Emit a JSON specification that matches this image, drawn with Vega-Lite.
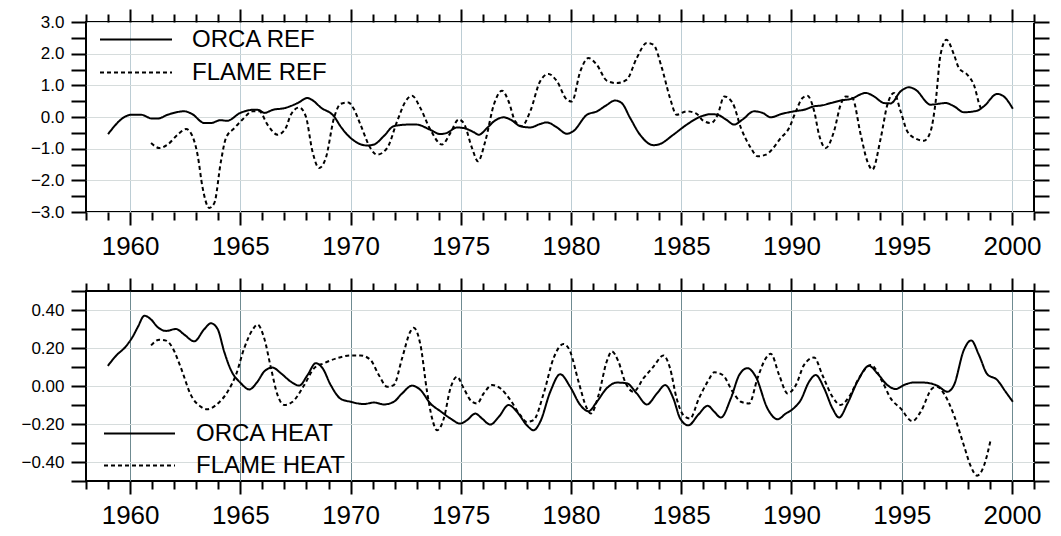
{
  "$schema": "https://vega.github.io/schema/vega-lite/v6.json",
  "padding": {"left": 5, "top": 7, "right": 5, "bottom": 0},
  "background": "white",
  "spacing": 13,
  "datasets": {
    "ref": [
      {"year": 1959.0, "v": -0.54, "s": "ORCA REF"},
      {"year": 1959.8, "v": 0.02, "s": "ORCA REF"},
      {"year": 1960.05, "v": 0.07, "s": "ORCA REF"},
      {"year": 1960.5, "v": 0.07, "s": "ORCA REF"},
      {"year": 1961.0, "v": -0.05, "s": "ORCA REF"},
      {"year": 1961.25, "v": -0.05, "s": "ORCA REF"},
      {"year": 1961.7, "v": 0.07, "s": "ORCA REF"},
      {"year": 1962.46, "v": 0.18, "s": "ORCA REF"},
      {"year": 1962.8, "v": 0.1, "s": "ORCA REF"},
      {"year": 1963.37, "v": -0.19, "s": "ORCA REF"},
      {"year": 1963.67, "v": -0.19, "s": "ORCA REF"},
      {"year": 1964.1, "v": -0.1, "s": "ORCA REF"},
      {"year": 1964.4, "v": -0.12, "s": "ORCA REF"},
      {"year": 1965.0, "v": 0.13, "s": "ORCA REF"},
      {"year": 1965.63, "v": 0.23, "s": "ORCA REF"},
      {"year": 1965.85, "v": 0.22, "s": "ORCA REF"},
      {"year": 1966.08, "v": 0.13, "s": "ORCA REF"},
      {"year": 1966.5, "v": 0.23, "s": "ORCA REF"},
      {"year": 1967.0, "v": 0.28, "s": "ORCA REF"},
      {"year": 1967.6, "v": 0.44, "s": "ORCA REF"},
      {"year": 1968.05, "v": 0.6, "s": "ORCA REF"},
      {"year": 1968.27, "v": 0.53, "s": "ORCA REF"},
      {"year": 1968.65, "v": 0.3, "s": "ORCA REF"},
      {"year": 1969.25, "v": 0.02, "s": "ORCA REF"},
      {"year": 1969.55, "v": -0.3, "s": "ORCA REF"},
      {"year": 1970.0, "v": -0.66, "s": "ORCA REF"},
      {"year": 1970.75, "v": -0.9, "s": "ORCA REF"},
      {"year": 1971.06, "v": -0.87, "s": "ORCA REF"},
      {"year": 1971.5, "v": -0.61, "s": "ORCA REF"},
      {"year": 1971.96, "v": -0.29, "s": "ORCA REF"},
      {"year": 1972.57, "v": -0.24, "s": "ORCA REF"},
      {"year": 1973.0, "v": -0.24, "s": "ORCA REF"},
      {"year": 1973.6, "v": -0.4, "s": "ORCA REF"},
      {"year": 1974.08, "v": -0.54, "s": "ORCA REF"},
      {"year": 1974.38, "v": -0.5, "s": "ORCA REF"},
      {"year": 1974.83, "v": -0.33, "s": "ORCA REF"},
      {"year": 1975.13, "v": -0.35, "s": "ORCA REF"},
      {"year": 1975.59, "v": -0.48, "s": "ORCA REF"},
      {"year": 1975.81, "v": -0.56, "s": "ORCA REF"},
      {"year": 1976.19, "v": -0.35, "s": "ORCA REF"},
      {"year": 1976.5, "v": -0.14, "s": "ORCA REF"},
      {"year": 1976.94, "v": -0.01, "s": "ORCA REF"},
      {"year": 1977.25, "v": -0.08, "s": "ORCA REF"},
      {"year": 1977.7, "v": -0.29, "s": "ORCA REF"},
      {"year": 1978.15, "v": -0.33, "s": "ORCA REF"},
      {"year": 1978.6, "v": -0.22, "s": "ORCA REF"},
      {"year": 1978.9, "v": -0.17, "s": "ORCA REF"},
      {"year": 1979.36, "v": -0.33, "s": "ORCA REF"},
      {"year": 1979.81, "v": -0.53, "s": "ORCA REF"},
      {"year": 1980.1, "v": -0.45, "s": "ORCA REF"},
      {"year": 1980.72, "v": 0.07, "s": "ORCA REF"},
      {"year": 1981.18, "v": 0.18, "s": "ORCA REF"},
      {"year": 1981.6, "v": 0.37, "s": "ORCA REF"},
      {"year": 1982.0, "v": 0.52, "s": "ORCA REF"},
      {"year": 1982.3, "v": 0.44, "s": "ORCA REF"},
      {"year": 1982.68, "v": -0.03, "s": "ORCA REF"},
      {"year": 1983.13, "v": -0.56, "s": "ORCA REF"},
      {"year": 1983.74, "v": -0.89, "s": "ORCA REF"},
      {"year": 1984.04, "v": -0.85, "s": "ORCA REF"},
      {"year": 1984.64, "v": -0.56, "s": "ORCA REF"},
      {"year": 1985.25, "v": -0.24, "s": "ORCA REF"},
      {"year": 1985.87, "v": 0.01, "s": "ORCA REF"},
      {"year": 1986.35, "v": 0.09, "s": "ORCA REF"},
      {"year": 1986.65, "v": 0.07, "s": "ORCA REF"},
      {"year": 1987.03, "v": -0.08, "s": "ORCA REF"},
      {"year": 1987.4, "v": -0.24, "s": "ORCA REF"},
      {"year": 1987.78, "v": -0.08, "s": "ORCA REF"},
      {"year": 1988.3, "v": 0.18, "s": "ORCA REF"},
      {"year": 1988.69, "v": 0.13, "s": "ORCA REF"},
      {"year": 1989.06, "v": -0.01, "s": "ORCA REF"},
      {"year": 1989.52, "v": 0.09, "s": "ORCA REF"},
      {"year": 1990.12, "v": 0.18, "s": "ORCA REF"},
      {"year": 1990.57, "v": 0.23, "s": "ORCA REF"},
      {"year": 1991.03, "v": 0.34, "s": "ORCA REF"},
      {"year": 1991.33, "v": 0.36, "s": "ORCA REF"},
      {"year": 1991.78, "v": 0.44, "s": "ORCA REF"},
      {"year": 1992.23, "v": 0.52, "s": "ORCA REF"},
      {"year": 1992.69, "v": 0.57, "s": "ORCA REF"},
      {"year": 1993.37, "v": 0.76, "s": "ORCA REF"},
      {"year": 1993.74, "v": 0.65, "s": "ORCA REF"},
      {"year": 1994.2, "v": 0.44, "s": "ORCA REF"},
      {"year": 1994.5, "v": 0.43, "s": "ORCA REF"},
      {"year": 1994.95, "v": 0.81, "s": "ORCA REF"},
      {"year": 1995.33, "v": 0.94, "s": "ORCA REF"},
      {"year": 1995.63, "v": 0.86, "s": "ORCA REF"},
      {"year": 1996.31, "v": 0.39, "s": "ORCA REF"},
      {"year": 1996.99, "v": 0.44, "s": "ORCA REF"},
      {"year": 1997.37, "v": 0.34, "s": "ORCA REF"},
      {"year": 1997.82, "v": 0.15, "s": "ORCA REF"},
      {"year": 1998.42, "v": 0.2, "s": "ORCA REF"},
      {"year": 1998.73, "v": 0.34, "s": "ORCA REF"},
      {"year": 1999.33, "v": 0.73, "s": "ORCA REF"},
      {"year": 1999.63, "v": 0.65, "s": "ORCA REF"},
      {"year": 2000.04, "v": 0.26, "s": "ORCA REF"},
      {"year": 1960.95, "v": -0.82, "s": "FLAME REF"},
      {"year": 1961.33, "v": -0.98, "s": "FLAME REF"},
      {"year": 1961.7, "v": -0.87, "s": "FLAME REF"},
      {"year": 1962.16, "v": -0.56, "s": "FLAME REF"},
      {"year": 1962.54, "v": -0.38, "s": "FLAME REF"},
      {"year": 1962.76, "v": -0.51, "s": "FLAME REF"},
      {"year": 1963.06, "v": -1.19, "s": "FLAME REF"},
      {"year": 1963.29, "v": -2.24, "s": "FLAME REF"},
      {"year": 1963.59, "v": -2.87, "s": "FLAME REF"},
      {"year": 1963.82, "v": -2.72, "s": "FLAME REF"},
      {"year": 1964.12, "v": -1.4, "s": "FLAME REF"},
      {"year": 1964.35, "v": -0.66, "s": "FLAME REF"},
      {"year": 1964.73, "v": -0.35, "s": "FLAME REF"},
      {"year": 1965.1, "v": -0.08, "s": "FLAME REF"},
      {"year": 1965.56, "v": 0.18, "s": "FLAME REF"},
      {"year": 1965.86, "v": 0.18, "s": "FLAME REF"},
      {"year": 1966.23, "v": -0.24, "s": "FLAME REF"},
      {"year": 1966.69, "v": -0.56, "s": "FLAME REF"},
      {"year": 1967.06, "v": -0.35, "s": "FLAME REF"},
      {"year": 1967.29, "v": 0.07, "s": "FLAME REF"},
      {"year": 1967.67, "v": 0.3, "s": "FLAME REF"},
      {"year": 1967.97, "v": 0.02, "s": "FLAME REF"},
      {"year": 1968.27, "v": -1.08, "s": "FLAME REF"},
      {"year": 1968.57, "v": -1.61, "s": "FLAME REF"},
      {"year": 1968.88, "v": -1.29, "s": "FLAME REF"},
      {"year": 1969.25, "v": -0.03, "s": "FLAME REF"},
      {"year": 1969.56, "v": 0.42, "s": "FLAME REF"},
      {"year": 1969.9, "v": 0.46, "s": "FLAME REF"},
      {"year": 1970.15, "v": 0.25, "s": "FLAME REF"},
      {"year": 1970.45, "v": -0.24, "s": "FLAME REF"},
      {"year": 1970.9, "v": -0.98, "s": "FLAME REF"},
      {"year": 1971.2, "v": -1.19, "s": "FLAME REF"},
      {"year": 1971.66, "v": -0.98, "s": "FLAME REF"},
      {"year": 1972.11, "v": -0.14, "s": "FLAME REF"},
      {"year": 1972.49, "v": 0.49, "s": "FLAME REF"},
      {"year": 1972.79, "v": 0.67, "s": "FLAME REF"},
      {"year": 1973.17, "v": 0.28, "s": "FLAME REF"},
      {"year": 1973.62, "v": -0.4, "s": "FLAME REF"},
      {"year": 1974.15, "v": -0.87, "s": "FLAME REF"},
      {"year": 1974.53, "v": -0.5, "s": "FLAME REF"},
      {"year": 1974.9, "v": -0.08, "s": "FLAME REF"},
      {"year": 1975.13, "v": -0.19, "s": "FLAME REF"},
      {"year": 1975.51, "v": -0.98, "s": "FLAME REF"},
      {"year": 1975.78, "v": -1.4, "s": "FLAME REF"},
      {"year": 1976.11, "v": -0.77, "s": "FLAME REF"},
      {"year": 1976.5, "v": 0.39, "s": "FLAME REF"},
      {"year": 1976.87, "v": 0.83, "s": "FLAME REF"},
      {"year": 1977.17, "v": 0.49, "s": "FLAME REF"},
      {"year": 1977.47, "v": -0.14, "s": "FLAME REF"},
      {"year": 1977.77, "v": -0.29, "s": "FLAME REF"},
      {"year": 1978.15, "v": 0.18, "s": "FLAME REF"},
      {"year": 1978.6, "v": 1.13, "s": "FLAME REF"},
      {"year": 1978.98, "v": 1.36, "s": "FLAME REF"},
      {"year": 1979.36, "v": 1.13, "s": "FLAME REF"},
      {"year": 1979.81, "v": 0.55, "s": "FLAME REF"},
      {"year": 1980.04, "v": 0.49, "s": "FLAME REF"},
      {"year": 1980.42, "v": 1.44, "s": "FLAME REF"},
      {"year": 1980.79, "v": 1.86, "s": "FLAME REF"},
      {"year": 1981.17, "v": 1.65, "s": "FLAME REF"},
      {"year": 1981.62, "v": 1.15, "s": "FLAME REF"},
      {"year": 1982.08, "v": 1.07, "s": "FLAME REF"},
      {"year": 1982.53, "v": 1.18, "s": "FLAME REF"},
      {"year": 1982.98, "v": 1.86, "s": "FLAME REF"},
      {"year": 1983.44, "v": 2.34, "s": "FLAME REF"},
      {"year": 1983.74, "v": 2.28, "s": "FLAME REF"},
      {"year": 1984.12, "v": 1.55, "s": "FLAME REF"},
      {"year": 1984.49, "v": 0.6, "s": "FLAME REF"},
      {"year": 1984.79, "v": 0.07, "s": "FLAME REF"},
      {"year": 1985.25, "v": 0.18, "s": "FLAME REF"},
      {"year": 1985.7, "v": 0.1, "s": "FLAME REF"},
      {"year": 1986.0, "v": -0.12, "s": "FLAME REF"},
      {"year": 1986.35, "v": -0.19, "s": "FLAME REF"},
      {"year": 1986.65, "v": 0.07, "s": "FLAME REF"},
      {"year": 1986.95, "v": 0.65, "s": "FLAME REF"},
      {"year": 1987.33, "v": 0.44, "s": "FLAME REF"},
      {"year": 1987.71, "v": -0.35, "s": "FLAME REF"},
      {"year": 1988.16, "v": -0.98, "s": "FLAME REF"},
      {"year": 1988.46, "v": -1.24, "s": "FLAME REF"},
      {"year": 1988.84, "v": -1.19, "s": "FLAME REF"},
      {"year": 1989.52, "v": -0.66, "s": "FLAME REF"},
      {"year": 1989.89, "v": -0.35, "s": "FLAME REF"},
      {"year": 1990.2, "v": 0.18, "s": "FLAME REF"},
      {"year": 1990.5, "v": 0.6, "s": "FLAME REF"},
      {"year": 1990.72, "v": 0.67, "s": "FLAME REF"},
      {"year": 1991.03, "v": 0.18, "s": "FLAME REF"},
      {"year": 1991.25, "v": -0.56, "s": "FLAME REF"},
      {"year": 1991.55, "v": -0.98, "s": "FLAME REF"},
      {"year": 1991.93, "v": -0.45, "s": "FLAME REF"},
      {"year": 1992.23, "v": 0.39, "s": "FLAME REF"},
      {"year": 1992.46, "v": 0.65, "s": "FLAME REF"},
      {"year": 1992.76, "v": 0.6, "s": "FLAME REF"},
      {"year": 1993.14, "v": -0.56, "s": "FLAME REF"},
      {"year": 1993.44, "v": -1.4, "s": "FLAME REF"},
      {"year": 1993.67, "v": -1.66, "s": "FLAME REF"},
      {"year": 1994.05, "v": -0.66, "s": "FLAME REF"},
      {"year": 1994.35, "v": 0.39, "s": "FLAME REF"},
      {"year": 1994.65, "v": 0.76, "s": "FLAME REF"},
      {"year": 1994.95, "v": 0.18, "s": "FLAME REF"},
      {"year": 1995.25, "v": -0.45, "s": "FLAME REF"},
      {"year": 1995.63, "v": -0.68, "s": "FLAME REF"},
      {"year": 1996.01, "v": -0.75, "s": "FLAME REF"},
      {"year": 1996.31, "v": -0.45, "s": "FLAME REF"},
      {"year": 1996.54, "v": 0.49, "s": "FLAME REF"},
      {"year": 1996.76, "v": 1.97, "s": "FLAME REF"},
      {"year": 1997.03, "v": 2.44, "s": "FLAME REF"},
      {"year": 1997.37, "v": 1.97, "s": "FLAME REF"},
      {"year": 1997.59, "v": 1.55, "s": "FLAME REF"},
      {"year": 1997.97, "v": 1.34, "s": "FLAME REF"},
      {"year": 1998.27, "v": 1.02, "s": "FLAME REF"},
      {"year": 1998.57, "v": 0.31, "s": "FLAME REF"},
      {"year": 1998.65, "v": 0.23, "s": "FLAME REF"}
    ],
    "heat": [
      {"year": 1958.99, "v": 0.106, "s": "ORCA HEAT"},
      {"year": 1959.37, "v": 0.16, "s": "ORCA HEAT"},
      {"year": 1959.82, "v": 0.21, "s": "ORCA HEAT"},
      {"year": 1960.12, "v": 0.26, "s": "ORCA HEAT"},
      {"year": 1960.35, "v": 0.31, "s": "ORCA HEAT"},
      {"year": 1960.65, "v": 0.37, "s": "ORCA HEAT"},
      {"year": 1960.95, "v": 0.35, "s": "ORCA HEAT"},
      {"year": 1961.25, "v": 0.31, "s": "ORCA HEAT"},
      {"year": 1961.63, "v": 0.29, "s": "ORCA HEAT"},
      {"year": 1962.08, "v": 0.30, "s": "ORCA HEAT"},
      {"year": 1962.46, "v": 0.27, "s": "ORCA HEAT"},
      {"year": 1962.91, "v": 0.235, "s": "ORCA HEAT"},
      {"year": 1963.37, "v": 0.30, "s": "ORCA HEAT"},
      {"year": 1963.67, "v": 0.33, "s": "ORCA HEAT"},
      {"year": 1963.97, "v": 0.30, "s": "ORCA HEAT"},
      {"year": 1964.27, "v": 0.18, "s": "ORCA HEAT"},
      {"year": 1964.57, "v": 0.085, "s": "ORCA HEAT"},
      {"year": 1965.03, "v": 0.014, "s": "ORCA HEAT"},
      {"year": 1965.4, "v": -0.018, "s": "ORCA HEAT"},
      {"year": 1965.78, "v": 0.023, "s": "ORCA HEAT"},
      {"year": 1966.08, "v": 0.076, "s": "ORCA HEAT"},
      {"year": 1966.46, "v": 0.097, "s": "ORCA HEAT"},
      {"year": 1966.84, "v": 0.067, "s": "ORCA HEAT"},
      {"year": 1967.29, "v": 0.023, "s": "ORCA HEAT"},
      {"year": 1967.67, "v": 0.002, "s": "ORCA HEAT"},
      {"year": 1968.05, "v": 0.058, "s": "ORCA HEAT"},
      {"year": 1968.42, "v": 0.12, "s": "ORCA HEAT"},
      {"year": 1968.73, "v": 0.094, "s": "ORCA HEAT"},
      {"year": 1969.1, "v": 0.005, "s": "ORCA HEAT"},
      {"year": 1969.56, "v": -0.068, "s": "ORCA HEAT"},
      {"year": 1970.0, "v": -0.083, "s": "ORCA HEAT"},
      {"year": 1970.6, "v": -0.095, "s": "ORCA HEAT"},
      {"year": 1971.06, "v": -0.087, "s": "ORCA HEAT"},
      {"year": 1971.51, "v": -0.097, "s": "ORCA HEAT"},
      {"year": 1971.96, "v": -0.083, "s": "ORCA HEAT"},
      {"year": 1972.34, "v": -0.039, "s": "ORCA HEAT"},
      {"year": 1972.79, "v": 0.002, "s": "ORCA HEAT"},
      {"year": 1973.17, "v": -0.021, "s": "ORCA HEAT"},
      {"year": 1973.62, "v": -0.092, "s": "ORCA HEAT"},
      {"year": 1974.08, "v": -0.133, "s": "ORCA HEAT"},
      {"year": 1974.53, "v": -0.171, "s": "ORCA HEAT"},
      {"year": 1974.98, "v": -0.198, "s": "ORCA HEAT"},
      {"year": 1975.28, "v": -0.18, "s": "ORCA HEAT"},
      {"year": 1975.66, "v": -0.145, "s": "ORCA HEAT"},
      {"year": 1975.96, "v": -0.171, "s": "ORCA HEAT"},
      {"year": 1976.34, "v": -0.203, "s": "ORCA HEAT"},
      {"year": 1976.72, "v": -0.163, "s": "ORCA HEAT"},
      {"year": 1977.17, "v": -0.1, "s": "ORCA HEAT"},
      {"year": 1977.55, "v": -0.136, "s": "ORCA HEAT"},
      {"year": 1978.0, "v": -0.207, "s": "ORCA HEAT"},
      {"year": 1978.3, "v": -0.233, "s": "ORCA HEAT"},
      {"year": 1978.6, "v": -0.189, "s": "ORCA HEAT"},
      {"year": 1979.06, "v": -0.03, "s": "ORCA HEAT"},
      {"year": 1979.51, "v": 0.062, "s": "ORCA HEAT"},
      {"year": 1979.96, "v": -0.004, "s": "ORCA HEAT"},
      {"year": 1980.42, "v": -0.1, "s": "ORCA HEAT"},
      {"year": 1980.79, "v": -0.133, "s": "ORCA HEAT"},
      {"year": 1981.17, "v": -0.083, "s": "ORCA HEAT"},
      {"year": 1981.62, "v": -0.012, "s": "ORCA HEAT"},
      {"year": 1982.08, "v": 0.018, "s": "ORCA HEAT"},
      {"year": 1982.53, "v": 0.014, "s": "ORCA HEAT"},
      {"year": 1982.98, "v": -0.039, "s": "ORCA HEAT"},
      {"year": 1983.44, "v": -0.097, "s": "ORCA HEAT"},
      {"year": 1983.9, "v": -0.039, "s": "ORCA HEAT"},
      {"year": 1984.27, "v": 0.005, "s": "ORCA HEAT"},
      {"year": 1984.64, "v": -0.065, "s": "ORCA HEAT"},
      {"year": 1984.95, "v": -0.171, "s": "ORCA HEAT"},
      {"year": 1985.32, "v": -0.207, "s": "ORCA HEAT"},
      {"year": 1985.78, "v": -0.15, "s": "ORCA HEAT"},
      {"year": 1986.2, "v": -0.104, "s": "ORCA HEAT"},
      {"year": 1986.5, "v": -0.136, "s": "ORCA HEAT"},
      {"year": 1986.8, "v": -0.166, "s": "ORCA HEAT"},
      {"year": 1987.25, "v": -0.065, "s": "ORCA HEAT"},
      {"year": 1987.63, "v": 0.058, "s": "ORCA HEAT"},
      {"year": 1988.0, "v": 0.094, "s": "ORCA HEAT"},
      {"year": 1988.38, "v": 0.049, "s": "ORCA HEAT"},
      {"year": 1988.91, "v": -0.118, "s": "ORCA HEAT"},
      {"year": 1989.37, "v": -0.175, "s": "ORCA HEAT"},
      {"year": 1989.74, "v": -0.145, "s": "ORCA HEAT"},
      {"year": 1990.05, "v": -0.122, "s": "ORCA HEAT"},
      {"year": 1990.42, "v": -0.074, "s": "ORCA HEAT"},
      {"year": 1990.8, "v": 0.023, "s": "ORCA HEAT"},
      {"year": 1991.1, "v": 0.058, "s": "ORCA HEAT"},
      {"year": 1991.48, "v": -0.012, "s": "ORCA HEAT"},
      {"year": 1991.86, "v": -0.118, "s": "ORCA HEAT"},
      {"year": 1992.16, "v": -0.166, "s": "ORCA HEAT"},
      {"year": 1992.54, "v": -0.092, "s": "ORCA HEAT"},
      {"year": 1992.99, "v": 0.023, "s": "ORCA HEAT"},
      {"year": 1993.52, "v": 0.106, "s": "ORCA HEAT"},
      {"year": 1993.89, "v": 0.067, "s": "ORCA HEAT"},
      {"year": 1994.35, "v": 0.005, "s": "ORCA HEAT"},
      {"year": 1994.73, "v": -0.016, "s": "ORCA HEAT"},
      {"year": 1995.1, "v": 0.005, "s": "ORCA HEAT"},
      {"year": 1995.56, "v": 0.019, "s": "ORCA HEAT"},
      {"year": 1996.01, "v": 0.018, "s": "ORCA HEAT"},
      {"year": 1996.61, "v": 0.002, "s": "ORCA HEAT"},
      {"year": 1997.07, "v": -0.03, "s": "ORCA HEAT"},
      {"year": 1997.37, "v": 0.005, "s": "ORCA HEAT"},
      {"year": 1997.82, "v": 0.19, "s": "ORCA HEAT"},
      {"year": 1998.15, "v": 0.24, "s": "ORCA HEAT"},
      {"year": 1998.5, "v": 0.164, "s": "ORCA HEAT"},
      {"year": 1998.88, "v": 0.062, "s": "ORCA HEAT"},
      {"year": 1999.33, "v": 0.032, "s": "ORCA HEAT"},
      {"year": 1999.71, "v": -0.03, "s": "ORCA HEAT"},
      {"year": 2000.04, "v": -0.083, "s": "ORCA HEAT"},
      {"year": 1960.95, "v": 0.214, "s": "FLAME HEAT"},
      {"year": 1961.33, "v": 0.244, "s": "FLAME HEAT"},
      {"year": 1961.63, "v": 0.239, "s": "FLAME HEAT"},
      {"year": 1961.93, "v": 0.2, "s": "FLAME HEAT"},
      {"year": 1962.31, "v": 0.094, "s": "FLAME HEAT"},
      {"year": 1962.76, "v": -0.048, "s": "FLAME HEAT"},
      {"year": 1963.22, "v": -0.11, "s": "FLAME HEAT"},
      {"year": 1963.49, "v": -0.122, "s": "FLAME HEAT"},
      {"year": 1963.9, "v": -0.1, "s": "FLAME HEAT"},
      {"year": 1964.42, "v": -0.03, "s": "FLAME HEAT"},
      {"year": 1964.8, "v": 0.058, "s": "FLAME HEAT"},
      {"year": 1965.18, "v": 0.2, "s": "FLAME HEAT"},
      {"year": 1965.56, "v": 0.297, "s": "FLAME HEAT"},
      {"year": 1965.78, "v": 0.323, "s": "FLAME HEAT"},
      {"year": 1966.08, "v": 0.253, "s": "FLAME HEAT"},
      {"year": 1966.39, "v": 0.094, "s": "FLAME HEAT"},
      {"year": 1966.69, "v": -0.048, "s": "FLAME HEAT"},
      {"year": 1966.99, "v": -0.1, "s": "FLAME HEAT"},
      {"year": 1967.37, "v": -0.083, "s": "FLAME HEAT"},
      {"year": 1967.9, "v": 0.005, "s": "FLAME HEAT"},
      {"year": 1968.35, "v": 0.094, "s": "FLAME HEAT"},
      {"year": 1968.8, "v": 0.12, "s": "FLAME HEAT"},
      {"year": 1969.4, "v": 0.147, "s": "FLAME HEAT"},
      {"year": 1970.01, "v": 0.161, "s": "FLAME HEAT"},
      {"year": 1970.45, "v": 0.161, "s": "FLAME HEAT"},
      {"year": 1970.9, "v": 0.138, "s": "FLAME HEAT"},
      {"year": 1971.28, "v": 0.058, "s": "FLAME HEAT"},
      {"year": 1971.66, "v": -0.004, "s": "FLAME HEAT"},
      {"year": 1971.96, "v": 0.005, "s": "FLAME HEAT"},
      {"year": 1972.34, "v": 0.147, "s": "FLAME HEAT"},
      {"year": 1972.72, "v": 0.288, "s": "FLAME HEAT"},
      {"year": 1972.87, "v": 0.306, "s": "FLAME HEAT"},
      {"year": 1973.17, "v": 0.217, "s": "FLAME HEAT"},
      {"year": 1973.47, "v": -0.03, "s": "FLAME HEAT"},
      {"year": 1973.7, "v": -0.171, "s": "FLAME HEAT"},
      {"year": 1973.92, "v": -0.233, "s": "FLAME HEAT"},
      {"year": 1974.23, "v": -0.171, "s": "FLAME HEAT"},
      {"year": 1974.53, "v": -0.012, "s": "FLAME HEAT"},
      {"year": 1974.83, "v": 0.049, "s": "FLAME HEAT"},
      {"year": 1975.13, "v": -0.012, "s": "FLAME HEAT"},
      {"year": 1975.51, "v": -0.083, "s": "FLAME HEAT"},
      {"year": 1975.74, "v": -0.092, "s": "FLAME HEAT"},
      {"year": 1976.04, "v": -0.039, "s": "FLAME HEAT"},
      {"year": 1976.42, "v": 0.005, "s": "FLAME HEAT"},
      {"year": 1976.79, "v": -0.012, "s": "FLAME HEAT"},
      {"year": 1977.25, "v": -0.074, "s": "FLAME HEAT"},
      {"year": 1977.7, "v": -0.154, "s": "FLAME HEAT"},
      {"year": 1978.0, "v": -0.189, "s": "FLAME HEAT"},
      {"year": 1978.3, "v": -0.18, "s": "FLAME HEAT"},
      {"year": 1978.76, "v": -0.039, "s": "FLAME HEAT"},
      {"year": 1979.21, "v": 0.147, "s": "FLAME HEAT"},
      {"year": 1979.66, "v": 0.221, "s": "FLAME HEAT"},
      {"year": 1979.96, "v": 0.182, "s": "FLAME HEAT"},
      {"year": 1980.34, "v": 0.023, "s": "FLAME HEAT"},
      {"year": 1980.72, "v": -0.118, "s": "FLAME HEAT"},
      {"year": 1980.9, "v": -0.145, "s": "FLAME HEAT"},
      {"year": 1981.25, "v": -0.048, "s": "FLAME HEAT"},
      {"year": 1981.62, "v": 0.129, "s": "FLAME HEAT"},
      {"year": 1981.85, "v": 0.182, "s": "FLAME HEAT"},
      {"year": 1982.15, "v": 0.129, "s": "FLAME HEAT"},
      {"year": 1982.45, "v": 0.023, "s": "FLAME HEAT"},
      {"year": 1982.83, "v": -0.03, "s": "FLAME HEAT"},
      {"year": 1983.29, "v": 0.041, "s": "FLAME HEAT"},
      {"year": 1983.74, "v": 0.102, "s": "FLAME HEAT"},
      {"year": 1984.19, "v": 0.161, "s": "FLAME HEAT"},
      {"year": 1984.49, "v": 0.094, "s": "FLAME HEAT"},
      {"year": 1984.79, "v": -0.065, "s": "FLAME HEAT"},
      {"year": 1985.1, "v": -0.154, "s": "FLAME HEAT"},
      {"year": 1985.4, "v": -0.171, "s": "FLAME HEAT"},
      {"year": 1985.8, "v": -0.065, "s": "FLAME HEAT"},
      {"year": 1986.2, "v": 0.023, "s": "FLAME HEAT"},
      {"year": 1986.5, "v": 0.072, "s": "FLAME HEAT"},
      {"year": 1986.88, "v": 0.058, "s": "FLAME HEAT"},
      {"year": 1987.33, "v": -0.03, "s": "FLAME HEAT"},
      {"year": 1987.71, "v": -0.083, "s": "FLAME HEAT"},
      {"year": 1988.08, "v": -0.092, "s": "FLAME HEAT"},
      {"year": 1988.46, "v": 0.041, "s": "FLAME HEAT"},
      {"year": 1988.84, "v": 0.147, "s": "FLAME HEAT"},
      {"year": 1989.06, "v": 0.17, "s": "FLAME HEAT"},
      {"year": 1989.44, "v": 0.058, "s": "FLAME HEAT"},
      {"year": 1989.82, "v": -0.039, "s": "FLAME HEAT"},
      {"year": 1990.2, "v": 0.005, "s": "FLAME HEAT"},
      {"year": 1990.57, "v": 0.111, "s": "FLAME HEAT"},
      {"year": 1991.03, "v": 0.15, "s": "FLAME HEAT"},
      {"year": 1991.4, "v": 0.058, "s": "FLAME HEAT"},
      {"year": 1991.86, "v": -0.057, "s": "FLAME HEAT"},
      {"year": 1992.23, "v": -0.1, "s": "FLAME HEAT"},
      {"year": 1992.61, "v": -0.057, "s": "FLAME HEAT"},
      {"year": 1993.06, "v": 0.041, "s": "FLAME HEAT"},
      {"year": 1993.59, "v": 0.111, "s": "FLAME HEAT"},
      {"year": 1994.12, "v": 0.023, "s": "FLAME HEAT"},
      {"year": 1994.5, "v": -0.065, "s": "FLAME HEAT"},
      {"year": 1994.95, "v": -0.118, "s": "FLAME HEAT"},
      {"year": 1995.48, "v": -0.185, "s": "FLAME HEAT"},
      {"year": 1995.86, "v": -0.136, "s": "FLAME HEAT"},
      {"year": 1996.39, "v": -0.012, "s": "FLAME HEAT"},
      {"year": 1996.61, "v": -0.004, "s": "FLAME HEAT"},
      {"year": 1996.91, "v": -0.039, "s": "FLAME HEAT"},
      {"year": 1997.37, "v": -0.154, "s": "FLAME HEAT"},
      {"year": 1997.82, "v": -0.313, "s": "FLAME HEAT"},
      {"year": 1998.12, "v": -0.419, "s": "FLAME HEAT"},
      {"year": 1998.42, "v": -0.472, "s": "FLAME HEAT"},
      {"year": 1998.73, "v": -0.419, "s": "FLAME HEAT"},
      {"year": 1999.03, "v": -0.286, "s": "FLAME HEAT"}
    ]
  },
  "vconcat": [
    {
      "width": 948,
      "height": 190,
      "data": {"name": "ref"},
      "layer": [
        {
          "transform": [{"filter": "datum.s === 'ORCA REF'"}],
          "mark": {"type": "line", "interpolate": "monotone", "color": "black", "strokeWidth": 2},
          "encoding": {
            "x": {"field": "year", "type": "quantitative",
              "scale": {"domain": [1958, 2001], "nice": false, "zero": false},
              "axis": {"orient": "bottom", "title": null, "format": "d",
                "values": [1958,1959,1960,1961,1962,1963,1964,1965,1966,1967,1968,1969,1970,1971,1972,1973,1974,1975,1976,1977,1978,1979,1980,1981,1982,1983,1984,1985,1986,1987,1988,1989,1990,1991,1992,1993,1994,1995,1996,1997,1998,1999,2000,2001],
                "labelExpr": "datum.value % 5 === 0 ? datum.label : ''",
                "tickSize": {"condition": {"test": "datum.value % 5 === 0", "value": 13}, "value": 8},
                "grid": true, "gridColor": "#bccdd4", "gridWidth": 1,
                "gridOpacity": {"condition": {"test": "datum.value % 5 === 0 && datum.value < 2001 && datum.value > 1958", "value": 1}, "value": 0},
                "labelFontSize": 26, "labelPadding": 8, "minExtent": 50, "maxExtent": 50}},
            "y": {"field": "v", "type": "quantitative",
              "scale": {"domain": [-3, 3], "nice": false, "zero": false},
              "axis": {"orient": "left", "title": null, "format": ".1f",
                "values": [-3,-2.5,-2,-1.5,-1,-0.5,0,0.5,1,1.5,2,2.5,3],
                "labelExpr": "datum.value % 1 === 0 ? datum.label : ''",
                "tickSize": 15, "grid": true, "gridColor": "#d6dcdc",
                "gridOpacity": {"condition": {"test": "datum.value % 1 === 0", "value": 1}, "value": 0},
                "labelFontSize": 17, "labelPadding": 7, "minExtent": 80, "maxExtent": 80}},
            "strokeDash": {"field": "s", "type": "nominal",
              "scale": {"domain": ["ORCA REF", "FLAME REF"], "range": [[1, 0], [4, 3]]},
              "legend": {"orient": "none", "legendX": 13, "legendY": 2, "title": null, "padding": 0,
                "symbolType": "stroke", "symbolSize": 5184, "symbolStrokeWidth": 2, "symbolStrokeColor": "black",
                "labelFontSize": 24, "labelFont": "Liberation Sans", "labelColor": "black", "labelOffset": 19,
                "clipHeight": 31, "rowPadding": 2}}
          }
        },
        {
          "transform": [{"filter": "datum.s === 'FLAME REF'"}],
          "mark": {"type": "line", "interpolate": "monotone", "color": "black", "strokeWidth": 2},
          "encoding": {
            "x": {"field": "year", "type": "quantitative",
              "scale": {"domain": [1958, 2001], "nice": false, "zero": false},
              "axis": {"orient": "top", "title": null, "labels": false, "grid": false,
                "values": [1958,1959,1960,1961,1962,1963,1964,1965,1966,1967,1968,1969,1970,1971,1972,1973,1974,1975,1976,1977,1978,1979,1980,1981,1982,1983,1984,1985,1986,1987,1988,1989,1990,1991,1992,1993,1994,1995,1996,1997,1998,1999,2000,2001],
                "tickSize": {"condition": {"test": "datum.value % 5 === 0", "value": 13}, "value": 8},
                "minExtent": 13, "maxExtent": 13}},
            "y": {"field": "v", "type": "quantitative",
              "scale": {"domain": [-3, 3], "nice": false, "zero": false},
              "axis": {"orient": "right", "title": null, "labels": false, "grid": false,
                "values": [-3,-2.5,-2,-1.5,-1,-0.5,0,0.5,1,1.5,2,2.5,3],
                "tickSize": 15}},
            "strokeDash": {"field": "s", "type": "nominal",
              "scale": {"domain": ["ORCA REF", "FLAME REF"], "range": [[1, 0], [4, 3]]},
              "legend": {"orient": "none", "legendX": 13, "legendY": 2, "title": null, "padding": 0,
                "symbolType": "stroke", "symbolSize": 5184, "symbolStrokeWidth": 2, "symbolStrokeColor": "black",
                "labelFontSize": 24, "labelFont": "Liberation Sans", "labelColor": "black", "labelOffset": 19,
                "clipHeight": 31, "rowPadding": 2}}
          }
        }
      ]
    },
    {
      "width": 948,
      "height": 190,
      "data": {"name": "heat"},
      "layer": [
        {
          "transform": [{"filter": "datum.s === 'ORCA HEAT'"}],
          "mark": {"type": "line", "interpolate": "monotone", "color": "black", "strokeWidth": 2},
          "encoding": {
            "x": {"field": "year", "type": "quantitative",
              "scale": {"domain": [1958, 2001], "nice": false, "zero": false},
              "axis": {"orient": "bottom", "title": null, "format": "d",
                "values": [1958,1959,1960,1961,1962,1963,1964,1965,1966,1967,1968,1969,1970,1971,1972,1973,1974,1975,1976,1977,1978,1979,1980,1981,1982,1983,1984,1985,1986,1987,1988,1989,1990,1991,1992,1993,1994,1995,1996,1997,1998,1999,2000,2001],
                "labelExpr": "datum.value % 5 === 0 ? datum.label : ''",
                "tickSize": {"condition": {"test": "datum.value % 5 === 0", "value": 13}, "value": 8},
                "grid": true, "gridColor": "#6f8b91", "gridWidth": 1,
                "gridOpacity": {"condition": {"test": "datum.value % 5 === 0 && datum.value < 2001 && datum.value > 1958", "value": 1}, "value": 0},
                "labelFontSize": 26, "labelPadding": 8, "minExtent": 50, "maxExtent": 50}},
            "y": {"field": "v", "type": "quantitative",
              "scale": {"domain": [-0.5, 0.5], "nice": false, "zero": false},
              "axis": {"orient": "left", "title": null, "format": ".2f",
                "values": [-0.5,-0.4,-0.3,-0.2,-0.1,0,0.1,0.2,0.3,0.4,0.5],
                "labelExpr": "abs(round(datum.value*10)) % 2 === 0 && abs(datum.value) < 0.45 ? datum.label : ''",
                "tickSize": 15, "grid": true, "gridColor": "#d6dcdc",
                "gridOpacity": {"condition": {"test": "abs(round(datum.value*10)) % 2 === 0 && abs(datum.value) < 0.45", "value": 1}, "value": 0},
                "labelFontSize": 17, "labelPadding": 7, "minExtent": 80, "maxExtent": 80}},
            "strokeDash": {"field": "s", "type": "nominal",
              "scale": {"domain": ["ORCA HEAT", "FLAME HEAT"], "range": [[1, 0], [4, 3]]},
              "legend": {"orient": "none", "legendX": 17, "legendY": 127, "title": null, "padding": 0,
                "symbolType": "stroke", "symbolSize": 5041, "symbolStrokeWidth": 2, "symbolStrokeColor": "black",
                "labelFontSize": 24, "labelFont": "Liberation Sans", "labelColor": "black", "labelOffset": 20,
                "clipHeight": 31, "rowPadding": 1}}
          }
        },
        {
          "transform": [{"filter": "datum.s === 'FLAME HEAT'"}],
          "mark": {"type": "line", "interpolate": "monotone", "color": "black", "strokeWidth": 2},
          "encoding": {
            "x": {"field": "year", "type": "quantitative",
              "scale": {"domain": [1958, 2001], "nice": false, "zero": false},
              "axis": {"orient": "top", "title": null, "labels": false, "grid": false,
                "values": [1958,1959,1960,1961,1962,1963,1964,1965,1966,1967,1968,1969,1970,1971,1972,1973,1974,1975,1976,1977,1978,1979,1980,1981,1982,1983,1984,1985,1986,1987,1988,1989,1990,1991,1992,1993,1994,1995,1996,1997,1998,1999,2000,2001],
                "tickSize": {"condition": {"test": "datum.value % 5 === 0", "value": 13}, "value": 8},
                "minExtent": 13, "maxExtent": 13}},
            "y": {"field": "v", "type": "quantitative",
              "scale": {"domain": [-0.5, 0.5], "nice": false, "zero": false},
              "axis": {"orient": "right", "title": null, "labels": false, "grid": false,
                "values": [-0.5,-0.4,-0.3,-0.2,-0.1,0,0.1,0.2,0.3,0.4,0.5],
                "tickSize": 15}},
            "strokeDash": {"field": "s", "type": "nominal",
              "scale": {"domain": ["ORCA HEAT", "FLAME HEAT"], "range": [[1, 0], [4, 3]]},
              "legend": {"orient": "none", "legendX": 17, "legendY": 127, "title": null, "padding": 0,
                "symbolType": "stroke", "symbolSize": 5041, "symbolStrokeWidth": 2, "symbolStrokeColor": "black",
                "labelFontSize": 24, "labelFont": "Liberation Sans", "labelColor": "black", "labelOffset": 20,
                "clipHeight": 31, "rowPadding": 1}}
          }
        }
      ]
    }
  ],
  "resolve": {"scale": {"strokeDash": "independent"}, "legend": {"strokeDash": "independent"}},
  "config": {
    "view": {"stroke": "black", "strokeWidth": 2},
    "axis": {"domain": false, "tickColor": "black", "tickWidth": 2, "labelFont": "Liberation Sans",
      "labelColor": "black", "labelOverlap": false, "labelFlush": false, "labelBound": false, "ticks": true}
  }
}
